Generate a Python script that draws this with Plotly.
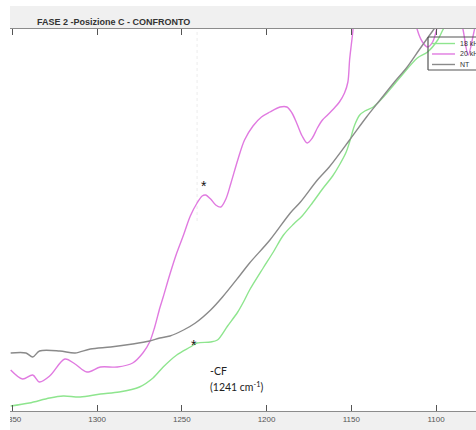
import plotly.graph_objects as go

# FTIR spectra, region 1350-1080 cm-1 (absorbance, arbitrary units)
series_names = ["18 kHz", "20 kHz", "NT"]
series_colors = ["#8ee58e", "#e07ae0", "#8a8a8a"]

wn_18 = [1351, 1340, 1328, 1320, 1310, 1298, 1287, 1275, 1267, 1261, 1253, 1245,
         1241, 1233, 1229, 1223, 1217, 1213, 1210, 1202, 1196, 1190, 1184, 1179,
         1173, 1167, 1161, 1157, 1153, 1151, 1148, 1145, 1142, 1137, 1131, 1125,
         1120, 1111, 1105, 1099, 1096, 1092]
abs_18 = [5, 8, 13, 15, 14, 17, 19, 24, 33, 44, 56, 64,
          68, 69, 71, 85, 99, 111, 121, 143, 159, 176, 187, 195,
          208, 222, 235, 246, 259, 269, 286, 296, 300, 304, 314, 326,
          336, 353, 359, 371, 381, 393]

wn_20 = [1351, 1344, 1338, 1334, 1328, 1319, 1313, 1306, 1298, 1288, 1279, 1273,
         1269, 1266, 1263, 1261, 1257, 1253, 1249, 1245, 1241, 1238, 1236, 1233,
         1230, 1227, 1224, 1221, 1217, 1213, 1208, 1203, 1198, 1192, 1188, 1185,
         1182, 1179, 1176, 1173, 1170, 1167, 1164, 1160, 1157, 1154, 1152, 1151,
         1150, 1149, 1148, 1140, 1125, 1115, 1111, 1108, 1105, 1102, 1099, 1096,
         1089, 1084, 1081, 1078, 1074]
abs_20 = [41, 32, 36, 29, 35, 52, 47, 39, 44, 44, 48, 58,
          69, 84, 103, 114, 137, 158, 176, 195, 208, 215, 216, 212,
          206, 204, 212, 228, 251, 271, 285, 294, 299, 304, 304, 298,
          287, 275, 268, 273, 283, 291, 296, 303, 309, 318, 329, 351,
          366, 381, 411, 470, 460, 416, 381, 369, 364, 369, 386, 406,
          421, 381, 356, 376, 411]

wn_nt = [1351, 1342, 1338, 1334, 1322, 1313, 1304, 1292, 1279, 1269, 1263, 1257,
         1249, 1242, 1233, 1226, 1216, 1210, 1198, 1186, 1180, 1170, 1163, 1151,
         1141, 1133, 1125, 1117, 1110, 1102, 1095, 1088]
abs_nt = [58, 58, 54, 60, 60, 58, 62, 64, 67, 70, 73, 75,
          81, 88, 101, 114, 135, 148, 171, 198, 209, 231, 244, 271,
          294, 311, 328, 344, 361, 380, 396, 412]

x_ticks = [1350, 1300, 1250, 1200, 1150, 1100]
x_range = [1351.4, 1076.4]
y_range = [0, 382]

marked_band = 1241

fig = go.Figure()
for name, color, xs, ys in zip(series_names, series_colors,
                               [wn_18, wn_20, wn_nt], [abs_18, abs_20, abs_nt]):
    fig.add_trace(go.Scatter(x=xs, y=ys, mode="lines", name=name,
                             line=dict(color=color, width=1.4, shape="spline",
                                       smoothing=0.9),
                             showlegend=False))

# faint reference line at the C-F band
fig.add_shape(type="line", xref="x", yref="y", x0=marked_band, x1=marked_band,
              y0=190, y1=382, line=dict(color="#ececec", width=1, dash="dot"),
              layer="below")

fig.update_xaxes(range=x_range, tickvals=x_ticks, ticks="inside", ticklen=6,
                 tickcolor="#555", showline=True, linecolor="#8c8c8c", linewidth=1,
                 mirror="ticks", showgrid=False, zeroline=False,
                 tickfont=dict(family="Liberation Sans", size=8, color="#555"))
fig.update_yaxes(range=y_range, showticklabels=False, ticks="", showline=False,
                 showgrid=False, zeroline=False)

annotations = [
    dict(text="<b>FASE 2 -Posizione C - CONFRONTO</b>", xref="paper", yref="paper",
         x=0.0536, y=1.0183, xanchor="left", yanchor="middle", showarrow=False,
         font=dict(family="Liberation Sans", size=9, color="#333")),
    dict(text="*", x=1236.9, y=225, xref="x", yref="y", showarrow=False,
         font=dict(family="Liberation Sans", size=14, color="#111")),
    dict(text="*", x=1242.8, y=66, xref="x", yref="y", showarrow=False,
         font=dict(family="Liberation Sans", size=14, color="#111")),
    dict(text="-CF", x=1234.5, y=40, xref="x", yref="y", xanchor="left",
         showarrow=False, font=dict(family="Lato", size=10.5, color="#222")),
    dict(text="(1241 cm<sup>-1</sup>)", x=1234.5, y=25, xref="x", yref="y",
         xanchor="left", showarrow=False,
         font=dict(family="Lato", size=10.5, color="#222")),
]

# legend box in the upper right corner
box_x0, box_x1, box_y0, box_y1 = 0.897, 1.0, 0.8927, 0.9791
shapes = [
    dict(type="rect", xref="paper", yref="paper", x0=box_x0, x1=box_x1,
         y0=box_y0, y1=box_y1, fillcolor="white", line=dict(width=0),
         layer="above"),
]
for (xa, ya, xb, yb) in [(box_x0, box_y1, box_x1, box_y1),
                         (box_x0, box_y0, box_x1, box_y0),
                         (box_x0, box_y0, box_x0, box_y1)]:
    shapes.append(dict(type="line", xref="paper", yref="paper", x0=xa, y0=ya,
                       x1=xb, y1=yb, line=dict(color="#555", width=1.2),
                       layer="above"))
row_y = [0.9620, 0.9346, 0.9071]
for name, color, ry in zip(series_names, series_colors, row_y):
    shapes.append(dict(type="line", xref="paper", yref="paper", x0=0.9056,
                       x1=0.9549, y0=ry, y1=ry,
                       line=dict(color=color, width=1.4), layer="above"))
    annotations.append(dict(text=name, xref="paper", yref="paper", x=0.9614, y=ry,
                            xanchor="left", yanchor="middle", showarrow=False,
                            font=dict(family="Liberation Sans", size=7,
                                      color="#333")))

# white outer strips on the left and top edges
shapes.append(dict(type="rect", xref="paper", yref="paper", x0=-0.03, x1=0,
                   y0=-0.06, y1=1.08, fillcolor="white", line=dict(width=0),
                   layer="above"))
shapes.append(dict(type="rect", xref="paper", yref="paper", x0=-0.03, x1=1.01,
                   y0=1.0602, y1=1.08, fillcolor="white", line=dict(width=0),
                   layer="above"))

fig.update_layout(width=476, height=430,
                  margin=dict(l=10, r=0, t=29, b=19),
                  paper_bgcolor="#f0f0f0", plot_bgcolor="white",
                  shapes=shapes, annotations=annotations, showlegend=False)

fig.write_html("out.html")
